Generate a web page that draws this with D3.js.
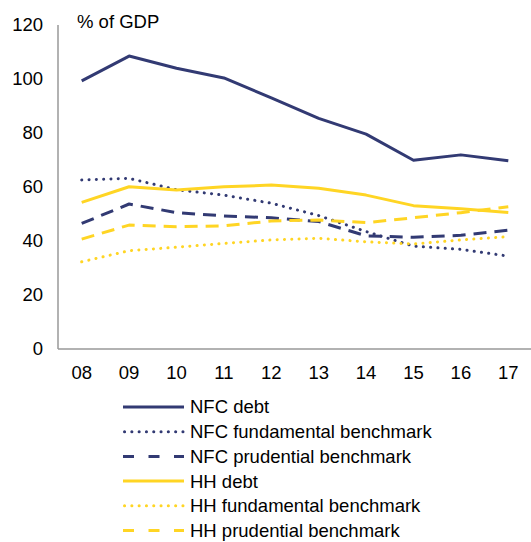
<!DOCTYPE html>
<html>
<head>
<meta charset="utf-8">
<script src="https://cdn.jsdelivr.net/npm/d3@7"></script>
<style>
  body { margin: 0; background: #fff; }
  text { font-family: "Liberation Sans", Arial, sans-serif; fill: #000; }
</style>
</head>
<body>
<svg id="chart" width="531" height="542"></svg>
<script>
// anni (asse X)
const years = ["08", "09", "10", "11", "12", "13", "14", "15", "16", "17"];
const yTicks = [0, 20, 40, 60, 80, 100, 120];

// serie
const nfcDebt = [99.3, 108.5, 104, 100.4, 93, 85.4, 79.6, 69.9, 71.9, 69.7];
const nfcFundamental = [62.6, 63.2, 59, 57, 54, 49.4, 43.5, 38.1, 36.9, 34.4];
const nfcPrudential = [46.5, 53.7, 50.5, 49.3, 48.6, 47.2, 41.9, 41.4, 42.1, 44];
const hhDebt = [54.3, 60.1, 58.9, 60.1, 60.7, 59.5, 57, 53.1, 51.9, 50.6];
const hhFundamental = [32.3, 36.4, 37.7, 39.1, 40.4, 41, 39.7, 38.9, 40.4, 41.6];
const hhPrudential = [40.7, 45.9, 45.3, 45.6, 47.4, 47.8, 46.8, 48.6, 50.5, 52.7];

const navy = "#323a73";
const yellow = "#ffd524";

const series = [
    { name: "NFC debt", values: nfcDebt, color: navy, style: "solid" },
    { name: "NFC fundamental benchmark", values: nfcFundamental, color: navy, style: "dot" },
    { name: "NFC prudential benchmark", values: nfcPrudential, color: navy, style: "dash" },
    { name: "HH debt", values: hhDebt, color: yellow, style: "solid" },
    { name: "HH fundamental benchmark", values: hhFundamental, color: yellow, style: "dot" },
    { name: "HH prudential benchmark", values: hhPrudential, color: yellow, style: "dash" }
];

const svg = d3.select("#chart");
const fontSize = "18.5px";

const plotLeft = 58, plotRight = 532, plotTop = 25, plotBottom = 349;

const x = d3.scaleBand().domain(years).range([plotLeft, plotRight]);
const y = d3.scaleLinear().domain([0, 120]).range([plotBottom, plotTop]);
const cx = d => x(d) + x.bandwidth() / 2;

// assi
svg.append("line")
    .attr("x1", plotLeft).attr("x2", plotLeft)
    .attr("y1", y(120)).attr("y2", y(0))
    .attr("stroke", "#999").attr("stroke-width", 1.5);
svg.append("line")
    .attr("x1", plotLeft).attr("x2", plotRight)
    .attr("y1", y(0)).attr("y2", y(0))
    .attr("stroke", "#999").attr("stroke-width", 1.5);

svg.selectAll(".y-label")
    .data(yTicks)
    .enter()
    .append("text")
    .attr("class", "y-label")
    .attr("x", 43)
    .attr("y", d => y(d))
    .attr("dy", "0.35em")
    .attr("text-anchor", "end")
    .style("font-size", fontSize)
    .text(d => d);

svg.selectAll(".x-label")
    .data(years)
    .enter()
    .append("text")
    .attr("class", "x-label")
    .attr("x", d => cx(d))
    .attr("y", 373)
    .attr("dy", "0.35em")
    .attr("text-anchor", "middle")
    .style("font-size", fontSize)
    .text(d => d);

svg.append("text")
    .attr("x", 77).attr("y", 22)
    .attr("dy", "0.35em")
    .style("font-size", fontSize)
    .text("% of GDP");

// stili linea
const dashFor = s => s === "dot" ? "0.1,7.2" : s === "dash" ? "13,8" : null;
const capFor = s => s === "dot" ? "round" : "butt";

const line = d3.line()
    .x((d, i) => cx(years[i]))
    .y(d => y(d));

svg.selectAll(".series")
    .data(series)
    .enter()
    .append("path")
    .attr("class", "series")
    .attr("d", d => line(d.values))
    .attr("fill", "none")
    .attr("stroke", d => d.color)
    .attr("stroke-width", 3)
    .attr("stroke-dasharray", d => dashFor(d.style))
    .attr("stroke-linecap", d => capFor(d.style))
    .attr("stroke-linejoin", "round");

// legenda
const legendY0 = 407, legendStep = 24.7;
const legend = svg.selectAll(".legend")
    .data(series)
    .enter()
    .append("g")
    .attr("class", "legend")
    .attr("transform", (d, i) => `translate(0, ${legendY0 + i * legendStep})`);

legend.append("line")
    .attr("x1", d => d.style === "dot" ? 124.5 : 123)
    .attr("x2", 184)
    .attr("stroke", d => d.color)
    .attr("stroke-width", 3)
    .attr("stroke-dasharray", d => d.style === "dot" ? "0.1,7.2" : d.style === "dash" ? "11,14.5" : null)
    .attr("stroke-linecap", d => capFor(d.style));

legend.append("text")
    .attr("x", 190)
    .attr("dy", "0.35em")
    .style("font-size", fontSize)
    .text(d => d.name);
</script>
</body>
</html>
